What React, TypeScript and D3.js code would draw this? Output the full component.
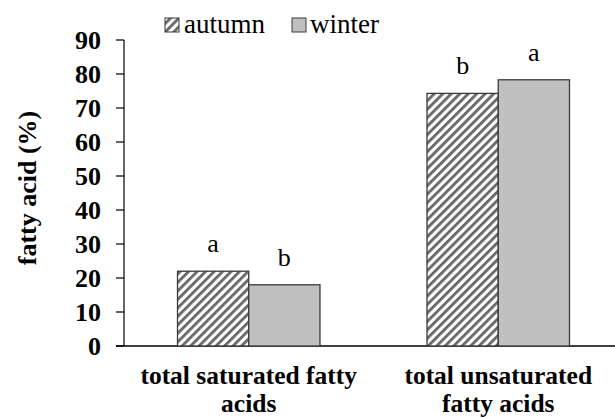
import * as d3 from 'd3';
import React from 'react';

const categories = ['total saturated fatty acids', 'total unsaturated fatty acids'];
const categoryLines = [['total saturated fatty', 'acids'], ['total unsaturated', 'fatty acids']];
const seasons = ['autumn', 'winter'];
const autumnValues = [22, 74.3];
const winterValues = [18, 78.3];
const autumnLetters = ['a', 'b'];
const winterLetters = ['b', 'a'];
const yTicks = [0, 10, 20, 30, 40, 50, 60, 70, 80, 90];

const W = 615;
const H = 418;
const FONT = 'Liberation Serif, Times New Roman, DejaVu Serif, serif';

export default function App() {
  const y = d3.scaleLinear().domain([0, 90]).range([346, 40]);
  const x = d3.scaleBand().domain(categories).range([124, 623]).paddingInner(0.429).paddingOuter(0.2145);
  const inner = d3.scaleBand().domain(seasons).range([0, x.bandwidth()]);

  const series = [
    { key: 'autumn', values: autumnValues, letters: autumnLetters, fill: 'url(#hatch)' },
    { key: 'winter', values: winterValues, letters: winterLetters, fill: '#c0c0c0' },
  ];

  return (
    <svg width={W} height={H} style={{ position: 'absolute', left: 0, top: 0, background: '#fff', fontFamily: FONT }}>
      <defs>
        <pattern id="hatch" patternUnits="userSpaceOnUse" width="6" height="6" patternTransform="rotate(45)">
          <rect width="6" height="6" fill="#fff" />
          <rect x="0" y="0" width="2.8" height="6" fill="#666" />
        </pattern>
      </defs>

      {/* y axis */}
      <line x1={124} x2={124} y1={y(90)} y2={y(0)} stroke="#000" strokeWidth={1.2} />
      {yTicks.map(t => (
        <g key={t}>
          <line x1={116} x2={124} y1={y(t)} y2={y(t)} stroke="#000" strokeWidth={1.2} />
          <text x={101} y={y(t)} dy="0.35em" textAnchor="end" style={{ fontFamily: FONT }} fontWeight="bold" fontSize={26}>{t}</text>
        </g>
      ))}
      <line x1={116} x2={W} y1={y(0)} y2={y(0)} stroke="#000" strokeWidth={1.4} />

      <text transform={`translate(36,${(y(0) + y(90)) / 2 - 5}) rotate(-90)`} textAnchor="middle" style={{ fontFamily: FONT }} fontWeight="bold" fontSize={26}>fatty acid (%)</text>

      {/* bars */}
      {series.map(s => (
        <g key={s.key}>
          {categories.map((c, i) => {
            const bx = (x(c) ?? 0) + (inner(s.key) ?? 0);
            return (
              <g key={c}>
                <rect x={bx} y={y(s.values[i])} width={inner.bandwidth()} height={y(0) - y(s.values[i])}
                  fill={s.fill} stroke="#3a3a3a" strokeWidth={1.3} />
                <text x={bx + inner.bandwidth() / 2} y={y(s.values[i]) - 19} textAnchor="middle" style={{ fontFamily: FONT }} fontSize={26}>{s.letters[i]}</text>
              </g>
            );
          })}
        </g>
      ))}

      {/* x labels, one text per line */}
      {categories.map((c, i) => (
        <g key={c}>
          {categoryLines[i].map((l, j) => (
            <text key={j} x={(x(c) ?? 0) + x.bandwidth() / 2} y={384 + j * 28} textAnchor="middle"
              style={{ fontFamily: FONT }} fontWeight="bold" fontSize={25.5}>{l}</text>
          ))}
        </g>
      ))}

      {/* legend */}
      <rect x={165} y={18} width={14} height={14} fill="url(#hatch)" stroke="#3a3a3a" />
      <text x={184} y={33} style={{ fontFamily: FONT }} fontSize={27}>autumn</text>
      <rect x={292} y={18} width={14} height={14} fill="#c0c0c0" stroke="#3a3a3a" />
      <text x={310} y={33} style={{ fontFamily: FONT }} fontSize={27}>winter</text>
    </svg>
  );
}
